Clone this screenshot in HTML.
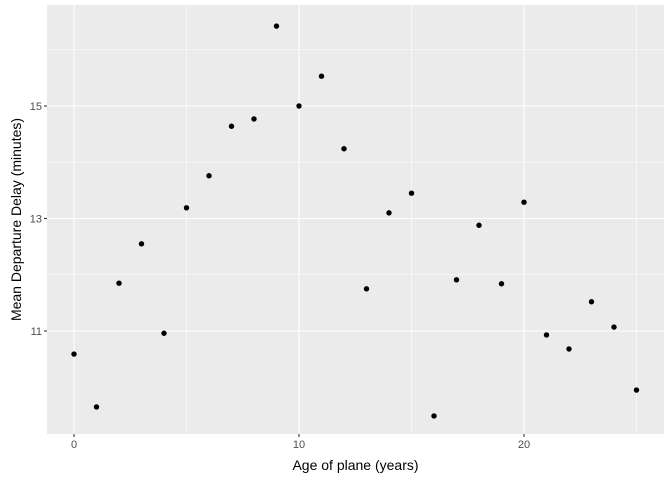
<!DOCTYPE html>
<html><head><meta charset="utf-8"><style>
body{margin:0;background:#fff;}
svg{display:block;font-family:"Liberation Sans",Arial,sans-serif;}
</style></head><body>
<svg id="c" width="672" height="480"></svg>
<script>
const ages=[0,1,2,3,4,5,6,7,8,9,10,11,12,13,14,15,16,17,18,19,20,21,22,23,24,25];
const delays=[10.59,9.65,11.85,12.55,10.96,13.19,13.76,14.64,14.77,16.42,15.0,15.53,14.24,11.75,13.10,13.45,9.49,11.91,12.88,11.84,13.29,10.93,10.68,11.52,11.07,9.95];
const xTicks=[0,10,20];
const xMinor=[5,15,25];
const yTicks=[11,13,15];
const yMinor=[12,14,16];
const NS="http://www.w3.org/2000/svg";
const svg=document.getElementById('c');
const L=47,R=664,T=5,B=434;
const xs=v=>74+(v-0)*22.5;
const ys=v=>331-(v-11)*56.25;
function el(t,a,p){const e=document.createElementNS(NS,t);for(const k in a)e.setAttribute(k,a[k]);(p||svg).appendChild(e);return e;}
const panel=el('rect',{x:L,y:T,width:R-L,height:B-T,fill:'#ebebeb'});


xMinor.forEach(v=>{const g=el('line',{x1:xs(v),x2:xs(v),y1:T,y2:B,stroke:'#fff','stroke-width':0.55});

});
yMinor.forEach(v=>{const g=el('line',{x1:L,x2:R,y1:ys(v),y2:ys(v),stroke:'#fff','stroke-width':0.55});

});
xTicks.forEach(v=>{const g=el('line',{x1:xs(v),x2:xs(v),y1:T,y2:B,stroke:'#fff','stroke-width':1.1});


const t=el('line',{x1:xs(v),x2:xs(v),y1:B,y2:B+3,stroke:'#333','stroke-width':1.1});


const l=el('text',{x:xs(v),y:B+14,'text-anchor':'middle','font-size':11,fill:'#4d4d4d'});l.textContent=v;

});
yTicks.forEach(v=>{const g=el('line',{x1:L,x2:R,y1:ys(v),y2:ys(v),stroke:'#fff','stroke-width':1.1});


const t=el('line',{x1:L-3,x2:L,y1:ys(v),y2:ys(v),stroke:'#333','stroke-width':1.1});


const l=el('text',{x:L-5,y:ys(v)+4,'text-anchor':'end','font-size':11,fill:'#4d4d4d'});l.textContent=v;

});
ages.forEach((a,i)=>{const p=el('circle',{cx:xs(a),cy:ys(delays[i]),r:2.7,fill:'#000'});

});
const xt=el('text',{x:(L+R)/2,y:470,'text-anchor':'middle','font-size':14,fill:'#000'});xt.textContent='Age of plane (years)';


const yt=el('text',{x:0,y:0,'text-anchor':'middle','font-size':14,fill:'#000',transform:`translate(21,${(T+B)/2}) rotate(-90)`});yt.textContent='Mean Departure Delay (minutes)';


</script>
</body></html>
